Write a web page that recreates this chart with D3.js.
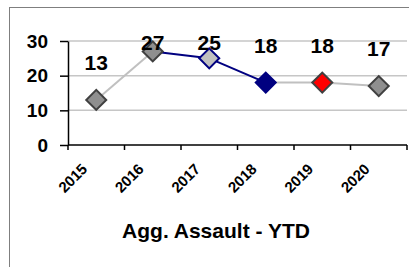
<!DOCTYPE html>
<meta charset="utf-8">
<style>
body { margin: 0; background: #fff; }
svg { font-family: "Liberation Sans", Arial, sans-serif; }
</style>
<svg width="409" height="267"></svg>
<script src="https://cdn.jsdelivr.net/npm/d3@7"></script>
<script>
var years = ["2015", "2016", "2017", "2018", "2019", "2020"];
var values = [13, 27, 25, 18, 18, 17];
var yTicks = [0, 10, 20, 30];
var title = "Agg. Assault - YTD";

// marker and segment colours
var markerFill = ["#8f8f8f", "#8f8f8f", "#c0c0c0", "#000080", "#ff0000", "#8f8f8f"];
var markerStroke = ["#404040", "#404040", "#000080", "#000080", "#404040", "#404040"];
var segColor = ["#c0c0c0", "#000080", "#000080", "#c0c0c0", "#c0c0c0"];

var svg = d3.select("svg");

// outer chart border
svg.append("rect")
    .attr("x", 9.5).attr("y", 7.5)
    .attr("width", 430).attr("height", 300)
    .attr("fill", "none").attr("stroke", "#7f7f7f").attr("stroke-width", 1);

var x = d3.scaleBand().domain(years).range([68, 407]);
var y = d3.scaleLinear().domain([0, 30]).range([145, 41]);

// gridlines
svg.append("g").selectAll("line")
    .data(yTicks.filter(function(d) { return d > 0; }))
  .enter().append("line")
    .attr("x1", 68).attr("x2", 407)
    .attr("y1", function(d) { return y(d); })
    .attr("y2", function(d) { return y(d); })
    .attr("stroke", "#c6c6c6").attr("stroke-width", 1.5);

// y axis
var yAxis = svg.append("g")
    .attr("transform", "translate(68,0)")
    .call(d3.axisLeft(y).tickValues(yTicks).tickSize(8).tickSizeOuter(0).tickPadding(12));
yAxis.select(".domain").attr("stroke", "#000").attr("stroke-width", 1.5);
yAxis.selectAll(".tick line").attr("stroke", "#000").attr("stroke-width", 1.5);
yAxis.selectAll("text")
    .attr("font-size", 19).attr("font-weight", "bold").attr("fill", "#000")
    .attr("font-family", "Liberation Sans, Arial, sans-serif");

// x axis, ticks between categories
var xg = svg.append("g");
xg.append("line")
    .attr("x1", 68).attr("x2", 407)
    .attr("y1", y(0)).attr("y2", y(0))
    .attr("stroke", "#000").attr("stroke-width", 1.5);
xg.selectAll(".xt")
    .data(years.map(function(d) { return x(d); }).concat([x.range()[1]]))
  .enter().append("line")
    .attr("class", "xt")
    .attr("x1", function(d) { return d; }).attr("x2", function(d) { return d; })
    .attr("y1", y(0)).attr("y2", y(0) + 5)
    .attr("stroke", "#000").attr("stroke-width", 1.5);
xg.selectAll("text")
    .data(years)
  .enter().append("text")
    .attr("text-anchor", "end")
    .attr("font-size", 15).attr("font-weight", "bold")
    .attr("transform", function(d) {
      return "translate(" + (x(d) + x.bandwidth() / 2 - 8) + "," + (y(0) + 25) + ") rotate(-45)";
    })
    .text(function(d) { return d; });

// line segments
var pts = years.map(function(d, i) { return [x(d) + x.bandwidth() / 2, y(values[i])]; });
svg.append("g").selectAll("line")
    .data(segColor)
  .enter().append("line")
    .attr("x1", function(d, i) { return pts[i][0]; })
    .attr("y1", function(d, i) { return pts[i][1]; })
    .attr("x2", function(d, i) { return pts[i + 1][0]; })
    .attr("y2", function(d, i) { return pts[i + 1][1]; })
    .attr("stroke", function(d) { return d; })
    .attr("stroke-width", 2);

// diamond markers
var dsym = d3.symbol().type(d3.symbolSquare).size(200);
svg.append("g").selectAll("path")
    .data(values)
  .enter().append("path")
    .attr("d", dsym)
    .attr("transform", function(d, i) { return "translate(" + pts[i][0] + "," + pts[i][1] + ") rotate(45)"; })
    .attr("fill", function(d, i) { return markerFill[i]; })
    .attr("stroke", function(d, i) { return markerStroke[i]; })
    .attr("stroke-width", 2);

// data labels
svg.append("g").selectAll("text")
    .data(values)
  .enter().append("text")
    .attr("text-anchor", "middle")
    .attr("font-size", 21).attr("font-weight", "bold")
    .attr("x", function(d, i) { return pts[i][0]; })
    .attr("y", function(d, i) { return Math.max(pts[i][1] - 30, 50); })
    .text(function(d) { return d; });

// title
svg.append("text")
    .attr("x", 216).attr("y", 238)
    .attr("text-anchor", "middle")
    .attr("font-size", 21).attr("font-weight", "bold")
    .text(title);
</script>
